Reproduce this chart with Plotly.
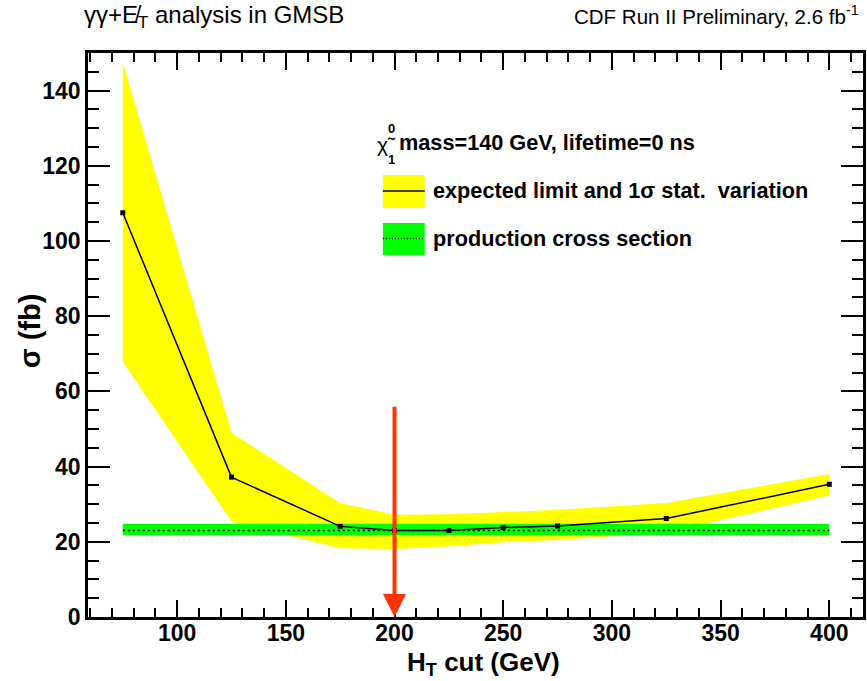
import plotly.graph_objects as go

# Expected cross-section limit vs H_T cut (fb)
ht_cut = [75, 125, 175, 200, 225, 250, 275, 325, 400]
expected_limit = [107.5, 37.2, 24.1, 23.0, 23.0, 23.8, 24.2, 26.2, 35.3]
limit_upper = [147.5, 49.0, 30.3, 27.2, 27.3, 28.0, 28.5, 30.3, 38.0]
limit_lower = [67.9, 25.4, 18.3, 18.1, 18.8, 19.9, 20.5, 22.5, 32.3]

# Theoretical production cross section band
xsec_ht = [75, 400]
xsec_central = [23.0, 23.0]
xsec_upper = [24.8, 24.8]
xsec_lower = [21.8, 21.8]

# Optimal cut marker
cut_choice = 200
cut_arrow_top = 56.3

x_ticks = [100, 150, 200, 250, 300, 350, 400]
y_ticks = [0, 20, 40, 60, 80, 100, 120, 140]

W, H = 867, 681
L, R, T, B = 88, 866, 53, 617
FONT = "Liberation Sans, Arial, Helvetica, sans-serif"


def px(x):
    return (x - L) / (R - L)


def py(y):
    return (B - y) / (B - T)


fig = go.Figure()

fig.add_trace(go.Scatter(
    x=ht_cut + ht_cut[::-1],
    y=limit_upper + limit_lower[::-1],
    fill="toself", fillcolor="#FFFF00", mode="lines",
    line=dict(width=0), hoverinfo="skip", showlegend=False))

fig.add_trace(go.Scatter(
    x=xsec_ht + xsec_ht[::-1],
    y=xsec_upper + xsec_lower[::-1],
    fill="toself", fillcolor="#00FF00", mode="lines",
    line=dict(width=0), hoverinfo="skip", showlegend=False))

fig.add_trace(go.Scatter(
    x=xsec_ht, y=xsec_central, mode="lines",
    line=dict(color="black", width=1.5, dash="2px,3px"),
    showlegend=False))

fig.add_trace(go.Scatter(
    x=ht_cut, y=expected_limit, mode="lines+markers",
    line=dict(color="black", width=1.5),
    marker=dict(symbol="square", size=5, color="black"),
    showlegend=False))

axis_common = dict(
    showline=True, linecolor="black", linewidth=2.5, mirror="ticks",
    ticks="inside", tickcolor="black", tickwidth=2,
    showgrid=False, zeroline=False,
    tickfont=dict(family=FONT, size=23, color="black", weight="bold"),
)

fig.update_xaxes(
    range=[59, 415.5], tickvals=x_ticks, ticklen=17,
    ticklabelstandoff=-6,
    minor=dict(ticks="inside", dtick=10, tick0=0, ticklen=9,
               tickwidth=2, tickcolor="black"),
    **axis_common)
fig.update_yaxes(
    range=[0, 150], tickvals=y_ticks, ticklen=22,
    minor=dict(ticks="inside", dtick=5, tick0=0, ticklen=11,
               tickwidth=2, tickcolor="black"),
    **axis_common)

LEG = 21.7

annotations = [
    # red arrow pointing at the chosen cut
    dict(x=cut_choice, y=0, ax=cut_choice, ay=cut_arrow_top,
         xref="x", yref="y", axref="x", ayref="y", text="",
         showarrow=True, arrowhead=2, arrowwidth=4, arrowsize=1.15,
         arrowcolor="#FF3300"),
    # headers
    dict(x=px(82), y=py(16), xref="paper", yref="paper",
         xanchor="left", yanchor="middle", showarrow=False,
         text="γγ+E\u0338<sub>T</sub> analysis in GMSB",
         font=dict(family=FONT, size=24, color="black")),
    dict(x=px(864), y=py(15), xref="paper", yref="paper",
         xanchor="right", yanchor="middle", showarrow=False,
         text="CDF Run II Preliminary, 2.6 fb<sup>-1</sup>",
         font=dict(family=FONT, size=20.5, color="black")),
    # axis titles
    dict(x=px(485), y=py(663), xref="paper", yref="paper",
         xanchor="center", yanchor="middle", showarrow=False,
         text="H<sub>T</sub> cut (GeV)",
         font=dict(family=FONT, size=26, color="black", weight="bold")),
    dict(x=px(30), y=py(331), xref="paper", yref="paper",
         xanchor="center", yanchor="middle", showarrow=False,
         textangle=-90, text="σ (fb)",
         font=dict(family=FONT, size=29, color="black", weight="bold")),
    # legend header
    dict(x=px(376), y=py(144), xref="paper", yref="paper",
         xanchor="left", yanchor="middle", showarrow=False,
         text="χ\u0303", font=dict(family=FONT, size=21, color="black")),
    dict(x=px(387), y=py(128), xref="paper", yref="paper",
         xanchor="left", yanchor="middle", showarrow=False,
         text="0", font=dict(family=FONT, size=13, color="black",
                             weight="bold")),
    dict(x=px(387), y=py(159), xref="paper", yref="paper",
         xanchor="left", yanchor="middle", showarrow=False,
         text="1", font=dict(family=FONT, size=13, color="black",
                             weight="bold")),
    dict(x=px(398), y=py(143), xref="paper", yref="paper",
         xanchor="left", yanchor="middle", showarrow=False,
         text="mass=140 GeV, lifetime=0 ns",
         font=dict(family=FONT, size=LEG, color="black", weight="bold")),
    dict(x=px(432), y=py(191), xref="paper", yref="paper",
         xanchor="left", yanchor="middle", showarrow=False,
         text="expected limit and 1σ stat.  variation",
         font=dict(family=FONT, size=LEG, color="black", weight="bold")),
    dict(x=px(432), y=py(238), xref="paper", yref="paper",
         xanchor="left", yanchor="middle", showarrow=False,
         text="production cross section",
         font=dict(family=FONT, size=LEG, color="black", weight="bold")),
]

shapes = [
    dict(type="rect", xref="paper", yref="paper",
         x0=px(384), x1=px(426), y0=py(208), y1=py(175),
         fillcolor="#FFFF00", line=dict(width=0)),
    dict(type="line", xref="paper", yref="paper",
         x0=px(384), x1=px(426), y0=py(191), y1=py(191),
         line=dict(color="black", width=1.5)),
    dict(type="rect", xref="paper", yref="paper",
         x0=px(384), x1=px(426), y0=py(255), y1=py(223),
         fillcolor="#00FF00", line=dict(width=0)),
    dict(type="line", xref="paper", yref="paper",
         x0=px(384), x1=px(426), y0=py(238.5), y1=py(238.5),
         line=dict(color="black", width=1.5, dash="1px,2px")),
]

fig.update_layout(
    width=W, height=H, autosize=False,
    margin=dict(l=L, r=W - R, t=T, b=H - B, pad=0),
    paper_bgcolor="white", plot_bgcolor="white",
    annotations=annotations, shapes=shapes,
    font=dict(family=FONT, color="black"),
)

fig.write_html("out.html")
